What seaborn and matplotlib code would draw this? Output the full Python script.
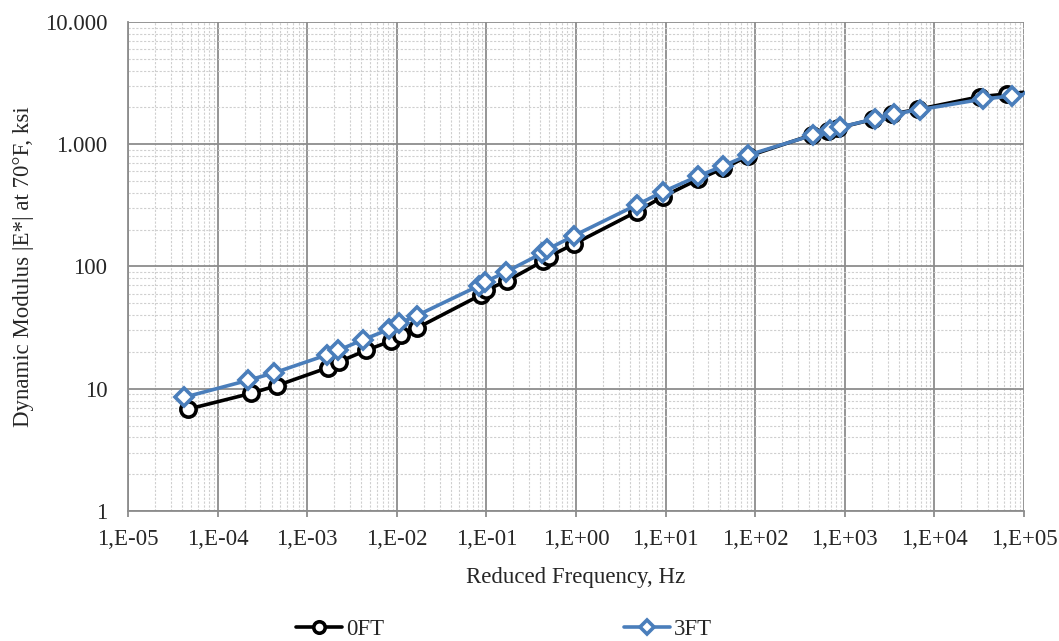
import matplotlib
matplotlib.use('Agg')
import matplotlib.pyplot as plt
import matplotlib.ticker as mticker
import numpy as np
import seaborn as sns

# reduced frequency (Hz) and |E*| (ksi)
freq_0ft = [4.61e-5, 2.33e-4, 4.57e-4, 1.71e-3, 2.26e-3, 4.53e-3, 8.51e-3, 1.11e-2, 1.68e-2,
            8.63e-2, 9.9e-2, 0.169, 0.431, 0.494, 0.95, 4.75, 9.29, 23.2, 44.1, 83.8,
            428, 655, 839, 2080, 3335, 6607, 32280, 64120, 1.3e5]
mod_0ft = [6.79, 9.15, 10.6, 14.9, 16.6, 20.6, 24.5, 27.5, 31.4,
           58.5, 64.2, 76.1, 111, 120, 153, 281, 372, 517, 636, 801,
           1191, 1291, 1358, 1600, 1767, 1932, 2449, 2577, 2716]

freq_3ft = [4.22e-5, 2.16e-4, 4.28e-4, 1.65e-3, 2.20e-3, 4.23e-3, 8.24e-3, 1.07e-2, 1.67e-2,
            8.34e-2, 9.53e-2, 0.167, 0.414, 0.479, 0.938, 4.75, 9.36, 23.2, 44.1, 83.8,
            445, 684, 883, 2173, 3508, 6902, 35160, 72970, 1.3e5]
mod_3ft = [8.51, 11.7, 13.5, 18.9, 20.6, 25.2, 30.7, 34.3, 39.7,
           69.9, 74.4, 90.7, 128, 138, 178, 319, 409, 550, 666, 817,
           1191, 1315, 1378, 1615, 1767, 1920, 2345, 2483, 2620]

blue = '#4A7EBB'
fs = 16.5

sns.set_theme(style='white')
plt.rcParams['font.family'] = ['Liberation Serif', 'DejaVu Serif']
plt.rcParams['font.size'] = fs

fig, ax = plt.subplots(figsize=(10.59, 6.41), dpi=100)
fig.subplots_adjust(left=0.1209, right=0.967, top=0.9657, bottom=0.2028)

sns.lineplot(x=freq_0ft, y=mod_0ft, ax=ax, color='black', lw=2.6, marker='o', ms=11,
             mfc='white', mec='black', mew=2.6, estimator=None, sort=False, label='0FT',
             legend=False)
sns.lineplot(x=freq_3ft, y=mod_3ft, ax=ax, color=blue, lw=2.6, marker='D', ms=9,
             mfc='white', mec=blue, mew=2.6, estimator=None, sort=False, label='3FT',
             legend=False)

ax.set_xscale('log')
ax.set_yscale('log')
ax.set_xlim(1e-5, 1e5)
ax.set_ylim(1, 1e4)

ax.xaxis.set_major_locator(mticker.LogLocator(base=10, numticks=20))
ax.xaxis.set_minor_locator(mticker.LogLocator(base=10, subs=np.arange(2, 10), numticks=200))
ax.yaxis.set_major_locator(mticker.LogLocator(base=10, numticks=20))
ax.yaxis.set_minor_locator(mticker.LogLocator(base=10, subs=np.arange(2, 10), numticks=200))
ax.xaxis.set_major_formatter(mticker.FuncFormatter(
    lambda v, p: "1,E" + f"{int(round(np.log10(v))):+03d}"))
ax.xaxis.set_minor_formatter(mticker.NullFormatter())
ax.yaxis.set_major_formatter(mticker.FuncFormatter(
    lambda v, p: f"{int(round(v)):,}".replace(',', '.')))
ax.yaxis.set_minor_formatter(mticker.NullFormatter())

ax.grid(which='major', color='#8c8c8c', lw=1.3, ls='-')
ax.grid(which='minor', color='#cfcfcf', lw=0.8, ls=(0, (2, 1.5)))
ax.set_axisbelow(True)

for side in ['left', 'bottom']:
    ax.spines[side].set_color('#8c8c8c')
    ax.spines[side].set_linewidth(1.3)
for side in ['top', 'right']:
    ax.spines[side].set_visible(False)

ax.tick_params(axis='x', which='major', direction='out', length=4, width=1.3,
               color='#8c8c8c', pad=9, labelsize=fs, bottom=True)
ax.tick_params(axis='x', which='minor', length=0)
ax.tick_params(axis='y', which='both', length=0, pad=15, labelsize=fs)

ax.set_xlabel('Reduced Frequency, Hz', fontsize=fs, labelpad=12)
ax.set_ylabel('Dynamic Modulus |E*| at 70°F, ksi', fontsize=fs, labelpad=8)

handles, labels = ax.get_legend_handles_labels()
fig.legend(handles, labels, loc='center', bbox_to_anchor=(0.476, 0.018), ncol=2,
           frameon=False, fontsize=fs, handlelength=2.0, handletextpad=0.15,
           columnspacing=10.5, markerscale=0.75)

fig.savefig('out.png', dpi=100)
